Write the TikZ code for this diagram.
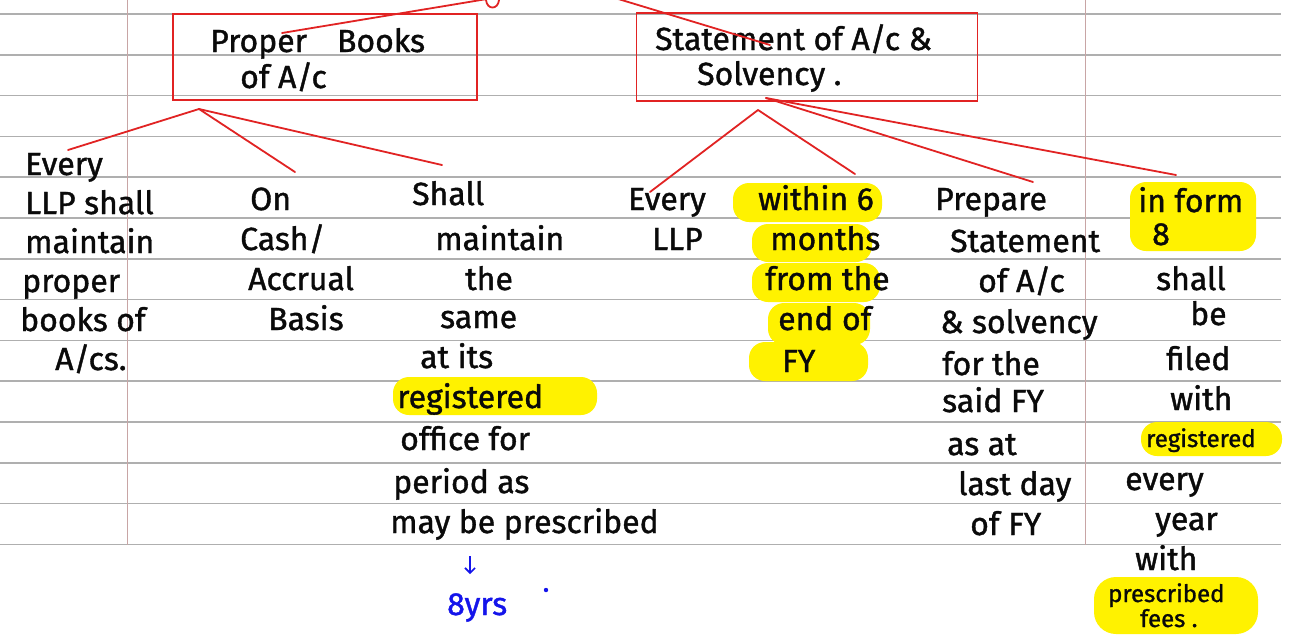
\documentclass[tikz,border=0pt]{standalone}
\usepackage{fontspec}
\newfontfamily\handfont[FakeBold=1.2]{Fira Sans}
\usetikzlibrary{arrows.meta}
\definecolor{ink}{RGB}{10,10,10}
\definecolor{penred}{RGB}{225,35,35}
\definecolor{rule}{RGB}{175,175,175}
\definecolor{margin}{RGB}{200,165,165}
\definecolor{marker}{RGB}{255,242,0}
\definecolor{penblue}{RGB}{20,20,235}
\tikzset{
  hw/.style={font=\handfont\fontsize{32}{36}\selectfont, inner sep=0pt, anchor=base west, text=ink},
  hwsmall/.style={hw, font=\handfont\fontsize{24}{26}\selectfont},
  redbox/.style={draw=penred, line width=1.8pt, inner sep=0pt},
  redline/.style={draw=penred, line width=1.8pt, line cap=round},
  ruled/.style={draw=rule, line width=1.6pt},
  marginline/.style={draw=margin, line width=1pt},
  highlight/.style={fill=marker, rounded corners=16pt}
}
\begin{document}
\begin{tikzpicture}[x=1pt,y=-1pt]
\useasboundingbox (0,0) rectangle (1295,641);
\fill[white] (0,0) rectangle (1295,641);

% ruled paper
\foreach \k in {0,...,13} \draw[ruled] (0,14+40.8*\k) -- (1281,14+40.8*\k);
\draw[marginline] (127,0) -- (127,545);
\draw[marginline] (1085,0) -- (1085,545);

% marker highlights
\fill[highlight] (393,377) rectangle (597,415);
\fill[highlight] (733,183) rectangle (882,222);
\fill[highlight] (752,224) rectangle (872,262);
\fill[highlight] (752,263) rectangle (880,302);
\fill[highlight] (768,303) rectangle (870,345);
\fill[highlight] (749,342) rectangle (868,381);
\fill[highlight] (1130,182) rectangle (1256,251);
\fill[highlight] (1141,422) rectangle (1282,456);
\fill[highlight, rounded corners=22pt] (1094,577) rectangle (1258,634);

% heading boxes
\node[redbox, minimum width=304pt, minimum height=86pt] (box1) at (325,57) {};
\node[redbox, minimum width=341pt, minimum height=88pt] (box2) at (807,57) {};
\node[hw] (b1a) at (210,52) {Proper\hspace{30pt}Books};
\node[hw] (b1b) at (240,88) {of A/c};
\node[hw] (b2a) at (655,50) {Statement of A/c \&};
\node[hw] (b2b) at (697,85) {Solvency .};

% links up to the parent heading
\coordinate (up1) at (493,-2);
\coordinate (up2) at (615,-2);
\coordinate (in1) at (282,33);
\coordinate (in2) at (770,45);
\draw[redline] (in1) -- (up1);
\draw[redline] (up2) -- (in2);
\draw[redline] (486,0) .. controls (487,10) and (498,10) .. (499,0);

% column 1
\node[hw] (c1a) at (25,175) {Every};
\node[hw] (c1b) at (25,214) {LLP shall};
\node[hw] (c1c) at (25,253) {maintain};
\node[hw] (c1d) at (22,292) {proper};
\node[hw] (c1e) at (20,331) {books of};
\node[hw] (c1f) at (55,370) {A/cs.};

% column 2
\node[hw] (c2a) at (250,210) {On};
\node[hw] (c2b) at (240,250) {Cash/};
\node[hw] (c2c) at (248,290) {Accrual};
\node[hw] (c2d) at (268,330) {Basis};

% column 3
\node[hw] (c3a) at (412,205) {Shall};
\node[hw] (c3b) at (435,250) {maintain};
\node[hw] (c3c) at (465,290) {the};
\node[hw] (c3d) at (440,328) {same};
\node[hw] (c3e) at (420,368) {at its};
\node[hw] (c3f) at (397,408) {registered};
\node[hw] (c3g) at (400,450) {office for};
\node[hw] (c3h) at (393,493) {period as};
\node[hw] (c3i) at (390,533) {may be prescribed};

% column 4
\node[hw] (c4a) at (628,210) {Every};
\node[hw] (c4b) at (652,250) {LLP};

% column 5
\node[hw] (c5a) at (758,210) {within 6};
\node[hw] (c5b) at (770,250) {months};
\node[hw] (c5c) at (765,290) {from the};
\node[hw] (c5d) at (778,330) {end of};
\node[hw] (c5e) at (782,372) {FY};

% column 6
\node[hw] (c6a) at (935,210) {Prepare};
\node[hw] (c6b) at (950,252) {Statement};
\node[hw] (c6c) at (978,292) {of A/c};
\node[hw] (c6d) at (940,333) {\& solvency};
\node[hw] (c6e) at (942,375) {for the};
\node[hw] (c6f) at (942,412) {said FY};
\node[hw] (c6g) at (947,455) {as at};
\node[hw] (c6h) at (958,495) {last day};
\node[hw] (c6i) at (970,535) {of FY};

% column 7
\node[hw] (c7a) at (1138,212) {in form};
\node[hw] (c7b) at (1152,245) {8};
\node[hw] (c7c) at (1156,290) {shall};
\node[hw] (c7d) at (1190,325) {be};
\node[hw] (c7e) at (1166,370) {filed};
\node[hw] (c7f) at (1170,410) {with};
\node[hwsmall] (c7g) at (1146,447) {registered};
\node[hw] (c7h) at (1125,490) {every};
\node[hw] (c7i) at (1155,530) {year};
\node[hw] (c7j) at (1135,570) {with};
\node[hwsmall] (c7k) at (1108,602) {prescribed};
\node[hwsmall] (c7l) at (1140,627) {fees .};

% footnote in blue
\node[hw, text=penblue] (yrs) at (447,615) {8yrs};
\fill[penblue] (546,590) circle (2.2pt);
\coordinate (arrtop) at (470,556);
\coordinate (arrbot) at (470,574);
\draw[penblue, line width=1.6pt, -{Straight Barb[length=5pt]}] (arrtop) -- (arrbot);

% branches under Proper Books of A/c
\coordinate (j1) at (199,109);
\coordinate (e1) at (68,150);
\coordinate (e2) at (295,172);
\coordinate (e3) at (442,165);
\draw[redline] (j1) -- (e1);
\draw[redline] (j1) -- (e2);
\draw[redline] (j1) -- (e3);

% branches under Statement of A/c & Solvency
\coordinate (j2) at (758,110);
\coordinate (j3) at (766,98);
\coordinate (f1) at (650,192);
\coordinate (f2) at (855,174);
\coordinate (f3) at (1033,182);
\coordinate (f4) at (1176,175);
\draw[redline] (j2) -- (f1);
\draw[redline] (j2) -- (f2);
\draw[redline] (j3) -- (f3);
\draw[redline] (j3) -- (f4);
\end{tikzpicture}
\end{document}
